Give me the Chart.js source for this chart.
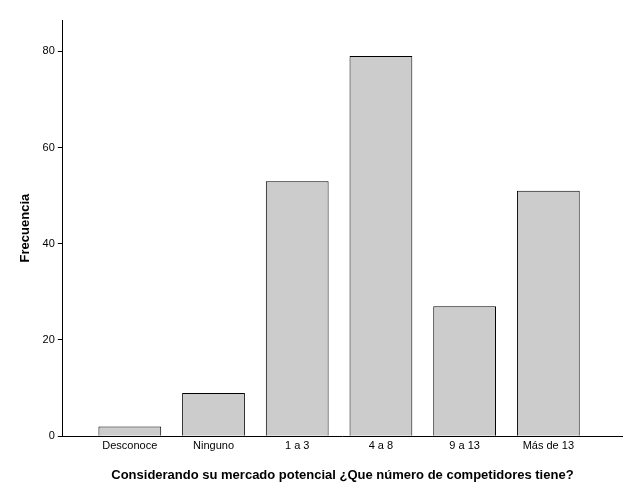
<!DOCTYPE html>
<html>
<head>
<meta charset="utf-8">
<script src="https://cdn.jsdelivr.net/npm/chart.js@4/dist/chart.umd.min.js"></script>
<style>
  body { margin: 0; background: #fff; }
  #wrap { width: 626px; height: 501px; }
</style>
</head>
<body>
<div id="wrap"><canvas id="c"></canvas></div>
<script>
// categories and counts
const categories = ['Desconoce', 'Ninguno', '1 a 3', '4 a 8', '9 a 13', 'Más de 13'];
const counts = [2, 9, 53, 79, 27, 51];
const yTicks = [0, 20, 40, 60, 80];

const points = counts.map((v, i) => ({ x: i, y: v }));

new Chart(document.getElementById('c'), {
    type: 'bar',
    data: {
        datasets: [{
            data: points,
            backgroundColor: '#cccccc',
            borderColor: '#000000',
            borderWidth: 1,
            categoryPercentage: 0.75,
            barPercentage: 1
        }]
    },
    options: {
        responsive: true,
        maintainAspectRatio: false,
        animation: false,
        layout: { padding: { top: 20, right: 4, left: 14, bottom: 14 } },
        plugins: { legend: { display: false }, tooltip: { enabled: false } },
        scales: {
            x: {
                type: 'linear',
                offset: false,
                min: -0.8,
                max: 5.88,
                afterBuildTicks: axis => { axis.ticks = categories.map((c, i) => ({ value: i })); },
                ticks: {
                    callback: v => categories[v],
                    color: '#000', font: { family: 'Liberation Sans', size: 11 }
                },
                grid: { drawOnChartArea: false, drawTicks: false },
                border: { color: '#000' },
                title: {
                    display: true,
                    text: 'Considerando su mercado potencial ¿Que número de competidores tiene?',
                    color: '#000', font: { family: 'Liberation Sans', size: 13, weight: 'bold' },
                    padding: { top: 12 }
                }
            },
            y: {
                min: 0,
                max: 86.5,
                afterBuildTicks: axis => { axis.ticks = yTicks.map(v => ({ value: v })); },
                ticks: { color: '#000', font: { family: 'Liberation Sans', size: 11 } },
                grid: { drawOnChartArea: false, tickLength: 5, color: '#000' },
                border: { color: '#000' },
                title: {
                    display: true,
                    text: 'Frecuencia',
                    color: '#000', font: { family: 'Liberation Sans', size: 13, weight: 'bold' },
                    padding: { bottom: 6 }
                }
            }
        }
    }
});
</script>
</body>
</html>
